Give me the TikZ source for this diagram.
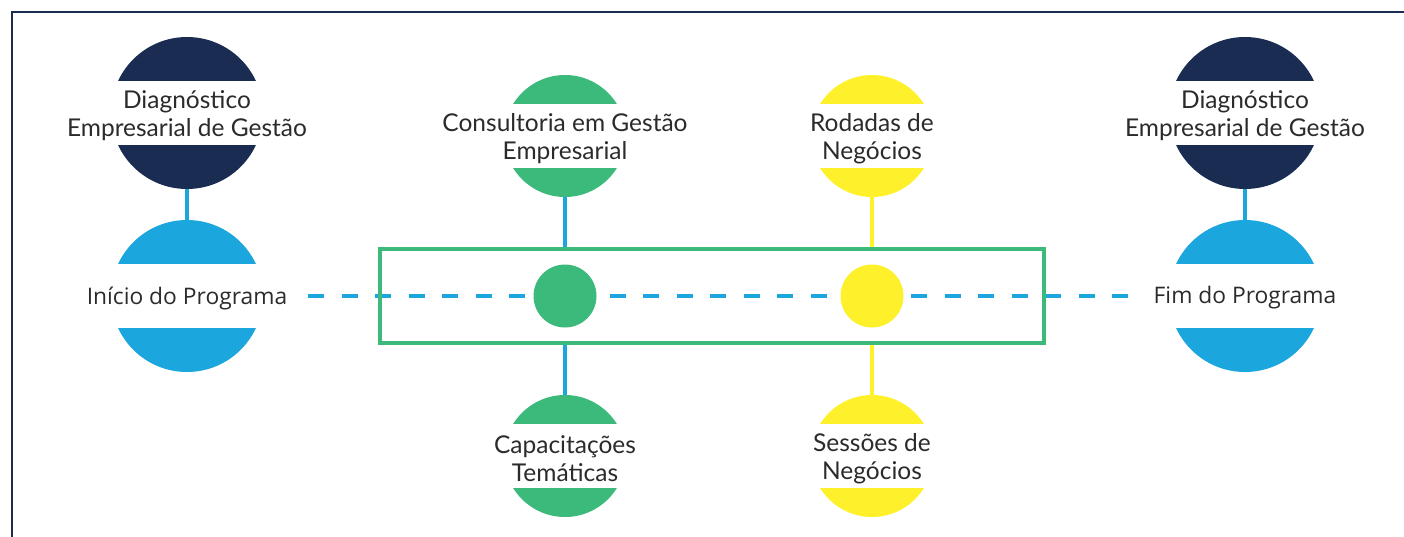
\documentclass[tikz,border=0pt]{standalone}
\usepackage{fontspec}
\setmainfont{Lato}
\newfontfamily\progfont{Open Sans}
\definecolor{navy}{HTML}{1A2C52}
\definecolor{skyb}{HTML}{1BA6DE}
\definecolor{grn}{HTML}{3CBA7B}
\definecolor{ylw}{HTML}{FEF12C}
\definecolor{txt}{HTML}{2B2B2B}
\tikzset{
  bigc/.style={circle,inner sep=0pt,minimum size=152pt},
  smallc/.style={circle,inner sep=0pt,minimum size=122pt},
  dotc/.style={circle,inner sep=0pt,minimum size=63pt},
  lbl/.style={text=txt,font=\fontsize{24.5}{28}\selectfont,align=center,inner sep=0pt,yshift=-3pt},
  plbl/.style={text=txt,font=\progfont\fontsize{22.8}{28}\selectfont,align=center,inner sep=0pt,yshift=-2pt},
  conn/.style={line width=4pt},
}
\begin{document}
\begin{tikzpicture}[x=1pt,y=-1pt]
\useasboundingbox (0,0) rectangle (1404,536);
% frame
\draw[navy,line width=2pt] (12,540) -- (12,11.5) -- (1404,11.5);
% dashed line
\coordinate (ds) at (308,296);
\coordinate (de) at (1130,296);
\draw[skyb,line width=4.5pt,dash pattern=on 16pt off 17.5pt] (ds) -- (de);
% box
\node[draw=grn,line width=4pt,minimum width=663.5pt,minimum height=94pt,inner sep=0pt] (box) at (711.75,296) {};
% big circles left
\node[bigc,fill=navy] (d1) at (187,113) {};
\node[bigc,fill=skyb] (i1) at (187,296) {};
\fill[white] (100,81) rectangle (275,145);
\fill[white] (100,264) rectangle (275,328);
\draw[skyb,conn] (d1.south) -- (i1.north);
\node[lbl] (t1) at (187,113) {Diagnóstico\\Empresarial de Gestão};
\node[plbl] (t2) at (187,296) {Início do Programa};
% big circles right
\node[bigc,fill=navy] (d2) at (1245,113) {};
\node[bigc,fill=skyb] (f2) at (1245,296) {};
\fill[white] (1160,81) rectangle (1330,145);
\fill[white] (1160,264) rectangle (1330,328);
\draw[skyb,conn] (d2.south) -- (f2.north);
\node[lbl] (t3) at (1245,113) {Diagnóstico\\Empresarial de Gestão};
\node[plbl] (t4) at (1245,296) {Fim do Programa};
% small circles
\node[smallc,fill=grn] (c1) at (565,136) {};
\node[smallc,fill=grn] (c2) at (565,456) {};
\node[smallc,fill=ylw] (y1) at (872,136) {};
\node[smallc,fill=ylw] (y2) at (872,456) {};
\fill[white] (495,104) rectangle (635,168);
\fill[white] (495,424) rectangle (635,488);
\fill[white] (800,104) rectangle (945,168);
\fill[white] (800,424) rectangle (945,488);
\node[lbl] (t5) at (565,136) {Consultoria em Gestão\\Empresarial};
\node[lbl] (t6) at (565,456) {Capacitações\\Temáticas};
\node[lbl] (t7) at (872,136) {Rodadas de\\Negócios};
\node[lbl] (t8) at (872,456) {Sessões de\\Negócios};
% connectors
\draw[skyb,conn] (c1.south) -- (c1.south |- box.north);
\draw[skyb,conn] (c2.north |- box.south) -- (c2.north);
\draw[ylw,conn] (y1.south) -- (y1.south |- box.north);
\draw[ylw,conn] (y2.north |- box.south) -- (y2.north);
% dots
\node[dotc,fill=grn] (g) at (565,296) {};
\node[dotc,fill=ylw] (y) at (872,296) {};
\end{tikzpicture}
\end{document}
